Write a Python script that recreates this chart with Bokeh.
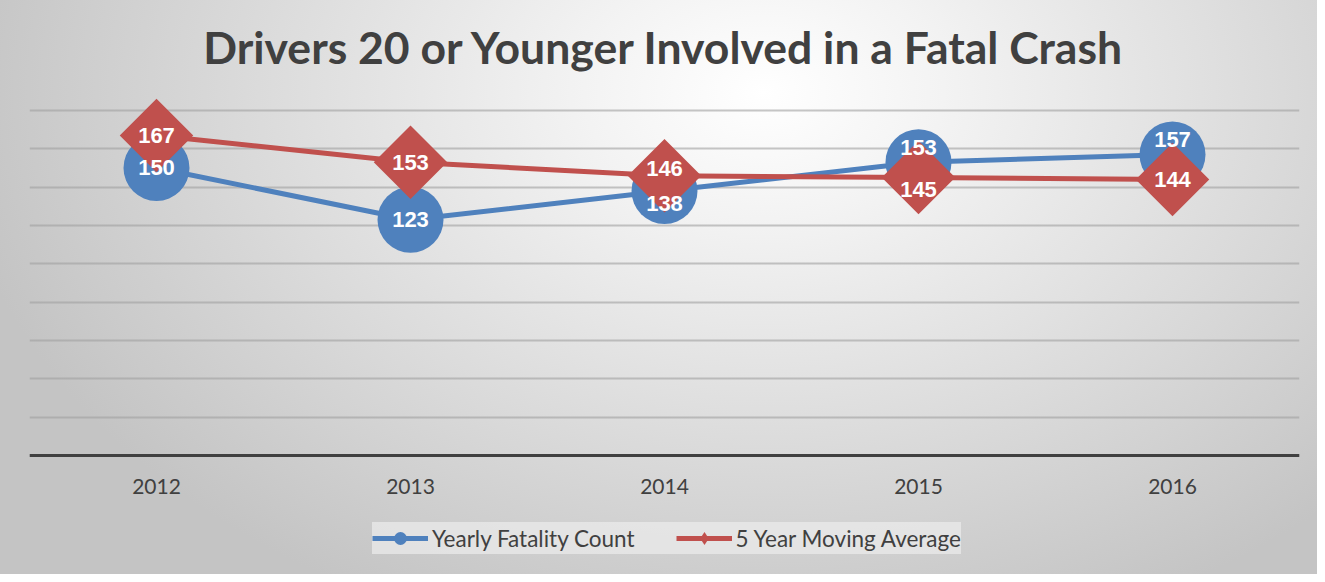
import numpy as np
from bokeh.plotting import figure
from bokeh.models import ColumnDataSource, Legend, LegendItem, FixedTicker
from bokeh.core.properties import value
from bokeh.embed import file_html
from bokeh.resources import INLINE

# ---- data ----
years = ["2012", "2013", "2014", "2015", "2016"]
yearly_count = [150, 123, 138, 153, 157]
moving_average = [167, 153, 146, 145, 144]
# label nudges in pixels (screen, positive = down)
yearly_label_dy = [0, 0, 13, -15, -15]
moving_label_dy = [0, 0, -7, 12, 0]
y_ticks = [0, 20, 40, 60, 80, 100, 120, 140, 160, 180]

BLUE = "#4F81BD"
RED = "#C0504D"
DARK = "#404040"

src = ColumnDataSource(dict(
    year=years,
    yearly=yearly_count,
    avg=moving_average,
    yearly_txt=[str(v) for v in yearly_count],
    avg_txt=[str(v) for v in moving_average],
    yearly_dy=yearly_label_dy,
    avg_dy=moving_label_dy,
))

# the frame is stretched below 0 so that axis labels and legend sit inside it
p = figure(
    width=1317, height=574,
    x_range=years, y_range=(-62.09, 192.52),
    output_backend="svg", toolbar_location=None,
    min_border_left=29, min_border_right=18,
    min_border_top=86, min_border_bottom=0,
    background_fill_alpha=0, border_fill_alpha=0,
    outline_line_color=None,
    styles={"background": "radial-gradient(ellipse 62% 100% at 58% 16%, #ffffff 0%, #f3f3f3 22%, #c4c4c4 100%)"},
)

# title
p.title.text = "Drivers 20 or Younger Involved in a Fatal Crash"
p.title.align = "center"
p.title.text_font = "Lato"
p.title.text_font_style = "bold"
p.title.text_font_size = "44.5px"
p.title.text_color = DARK
p.title.standoff = 27

# axes / grid
p.yaxis.visible = False
p.yaxis.ticker = FixedTicker(ticks=y_ticks)
p.ygrid.ticker = FixedTicker(ticks=y_ticks)
p.ygrid.grid_line_color = "#a0a0a0"
p.ygrid.grid_line_alpha = 0.6
p.ygrid.grid_line_width = 2
p.xgrid.visible = False

p.xaxis.fixed_location = 0
p.xaxis.axis_line_width = 3
p.xaxis.axis_line_color = DARK
p.xaxis.major_tick_line_color = None
p.xaxis.minor_tick_line_color = None
p.xaxis.major_tick_out = 0
p.xaxis.major_tick_in = 0
p.xaxis.major_label_standoff = 24
p.xaxis.major_label_text_font = "Lato"
p.xaxis.major_label_text_font_size = "21px"
p.xaxis.major_label_text_color = DARK

# series
bl = p.line(x="year", y="yearly", source=src, line_color=BLUE, line_width=5)
bs = p.scatter(x="year", y="yearly", source=src, marker="circle", size=66,
               fill_color=BLUE, line_color=None)
rl = p.line(x="year", y="avg", source=src, line_color=RED, line_width=5)
rs = p.scatter(x="year", y="avg", source=src, marker="square", angle=np.pi / 4,
               size=52, fill_color=RED, line_color=None)
# hidden twin used only for the legend's small diamond
rs_leg = p.scatter(x="year", y="avg", source=src, marker="diamond",
                   fill_color=RED, line_color=None, visible=False)

# data labels
for col, txt, dy in (("yearly", "yearly_txt", "yearly_dy"), ("avg", "avg_txt", "avg_dy")):
    p.text(x="year", y=col, text=txt, y_offset=dy, source=src,
           text_align="center", text_baseline="middle",
           text_color="white", text_font=value("Liberation Sans"),
           text_font_style="bold", text_font_size="22px")

legend = Legend(
    items=[
        LegendItem(label="Yearly Fatality Count", renderers=[bl, bs]),
        LegendItem(label="5 Year Moving Average", renderers=[rl, rs_leg]),
    ],
    orientation="horizontal", location=(343, 20),
    glyph_width=56, glyph_height=32, label_standoff=4, spacing=41,
    padding=14, margin=0,
    label_text_font="Lato", label_text_font_size="22.5px", label_text_color=DARK,
    background_fill_color="#ececec", background_fill_alpha=0.7,
    border_line_color=None,
)
p.add_layout(legend, "center")

open("out.html", "w").write(file_html(p, INLINE))
